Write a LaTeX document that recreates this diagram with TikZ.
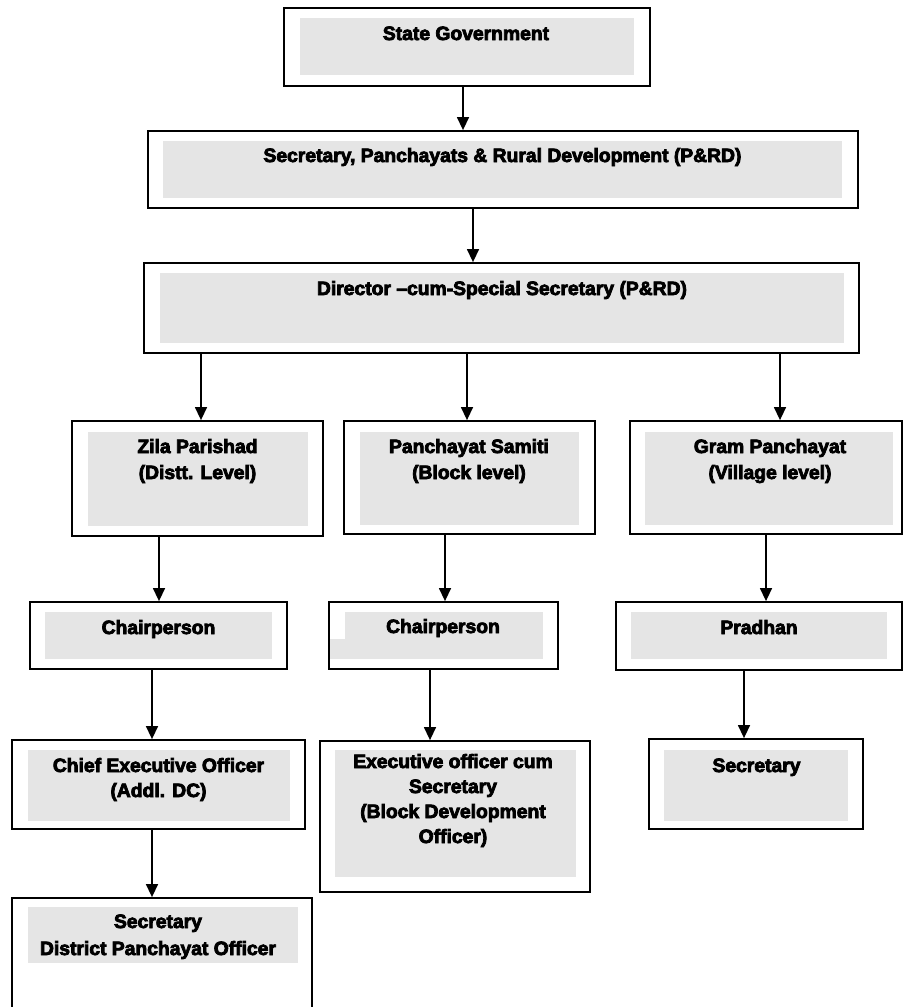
\documentclass[tikz,border=0pt]{standalone}
\usepackage{fontspec}
\newfontfamily\orgfont{Liberation Sans}[BoldFeatures={FakeBold=4}]
\usetikzlibrary{arrows.meta,positioning,calc}

\tikzset{
  outerbox/.style={rectangle,draw,line width=1.8pt,inner sep=0pt},
  graybox/.style={rectangle,fill=black!10,inner sep=0pt},
  txt/.style={align=center,inner sep=0pt,anchor=base,
    font=\orgfont\bfseries\fontsize{19.3}{26}\selectfont},
  arr/.style={-{Triangle[width=12pt,length=13pt]},line width=1.4pt}
}

\begin{document}
\begin{tikzpicture}[x=1pt,y=-1pt]
\clip (0,0) rectangle (903,1007);

% State level
\node[outerbox,minimum width=366,minimum height=78] (sg) at (467,47) {};
\node[graybox,minimum width=334,minimum height=57] (sgfill) at (467,46.5) {};
\node[txt] (sgtxt) at (466,40) {State Government};

\node[outerbox,minimum width=710,minimum height=77] (sprd) at (503,169.5) {};
\node[graybox,minimum width=679,minimum height=57] (sprdfill) at (502.5,169.5) {};
\node[txt] (sprdtxt) at (502.5,162) {Secretary, Panchayats \& Rural Development (P\&RD)};

\node[outerbox,minimum width=715,minimum height=90] (dir) at (501.5,308) {};
\node[graybox,minimum width=684,minimum height=70] (dirfill) at (502,308) {};
\node[txt] (dirtxt) at (502,295) {Director \textendash cum-Special Secretary (P\&RD)};

% Panchayat levels
\node[outerbox,minimum width=251,minimum height=115] (zp) at (197.5,478.5) {};
\node[graybox,minimum width=220,minimum height=94] (zpfill) at (198,479) {};
\node[txt] (zptxt) at (197.5,479) {Zila Parishad\\(Distt. Level)};

\node[outerbox,minimum width=251,minimum height=113] (ps) at (469.5,477.5) {};
\node[graybox,minimum width=219,minimum height=93] (psfill) at (469.5,478.5) {};
\node[txt] (pstxt) at (469,479) {Panchayat Samiti\\(Block level)};

\node[outerbox,minimum width=272,minimum height=113] (gp) at (766,477.5) {};
\node[graybox,minimum width=248,minimum height=93] (gpfill) at (769,478.5) {};
\node[txt] (gptxt) at (770,479) {Gram Panchayat\\(Village level)};

% Heads
\node[outerbox,minimum width=257,minimum height=67] (zc) at (158.5,635.5) {};
\node[graybox,minimum width=227,minimum height=47] (zcfill) at (158.5,635.5) {};
\node[txt] (zctxt) at (158.5,634) {Chairperson};

\node[outerbox,minimum width=229,minimum height=67] (pc) at (443.5,635.5) {};
\node[graybox,minimum width=198,minimum height=47] (pcfill) at (444,635.5) {};
\node[graybox,minimum width=16,minimum height=20] (pcnotch) at (338,649) {};
\node[txt] (pctxt) at (443,633) {Chairperson};

\node[outerbox,minimum width=286,minimum height=68] (pr) at (759,636) {};
\node[graybox,minimum width=256,minimum height=47] (prfill) at (759,635.5) {};
\node[txt] (prtxt) at (759,634) {Pradhan};

% Officers
\node[outerbox,minimum width=293,minimum height=89] (ceo) at (158.5,784.5) {};
\node[graybox,minimum width=262,minimum height=71] (ceofill) at (159,785.5) {};
\node[txt,font=\orgfont\bfseries\fontsize{19.3}{25}\selectfont] (ceotxt) at (158.5,797) {Chief Executive Officer\\(Addl. DC)};

\node[outerbox,minimum width=270,minimum height=151] (eo) at (455,816.5) {};
\node[graybox,minimum width=241,minimum height=127] (eofill) at (455.5,813.5) {};
\node[txt,font=\orgfont\bfseries\fontsize{19.3}{25}\selectfont] (eotxt) at (453,843) {Executive officer cum\\Secretary\\(Block Development\\Officer)};

\node[outerbox,minimum width=214,minimum height=90] (sec) at (756,784) {};
\node[graybox,minimum width=184,minimum height=71] (secfill) at (756,785.5) {};
\node[txt] (sectxt) at (756.5,772) {Secretary};

\node[outerbox,minimum width=300,minimum height=122] (dpo) at (162,959) {};
\node[graybox,minimum width=270,minimum height=56] (dpofill) at (163,935) {};
\node[txt,font=\orgfont\bfseries\fontsize{19.3}{27}\selectfont] (dpotxt) at (158,955) {Secretary\\District Panchayat Officer};

% Connectors
\draw[arr] ([xshift=-4pt]sg.south) -- ([xshift=-4pt]sg.south |- sprd.north);
\draw[arr] ([xshift=-30pt]sprd.south) -- ([xshift=-30pt]sprd.south |- dir.north);
\draw[arr] ([xshift=3.5pt]zp.north |- dir.south) -- ([xshift=3.5pt]zp.north);
\draw[arr] ([xshift=-2.5pt]ps.north |- dir.south) -- ([xshift=-2.5pt]ps.north);
\draw[arr] ([xshift=14pt]gp.north |- dir.south) -- ([xshift=14pt]gp.north);
\draw[arr] ([xshift=0.5pt]zc.north |- zp.south) -- ([xshift=0.5pt]zc.north);
\draw[arr] ([xshift=1.5pt]pc.north |- ps.south) -- ([xshift=1.5pt]pc.north);
\draw[arr] ([xshift=7pt]pr.north |- gp.south) -- ([xshift=7pt]pr.north);
\draw[arr] ([xshift=-6.5pt]zc.south) -- ([xshift=-6.5pt]zc.south |- ceo.north);
\draw[arr] ([xshift=-13.5pt]pc.south) -- ([xshift=-13.5pt]pc.south |- eo.north);
\draw[arr] ([xshift=-15pt]pr.south) -- ([xshift=-15pt]pr.south |- sec.north);
\draw[arr] ([xshift=-6.5pt]ceo.south) -- ([xshift=-6.5pt]ceo.south |- dpo.north);
\end{tikzpicture}
\end{document}
